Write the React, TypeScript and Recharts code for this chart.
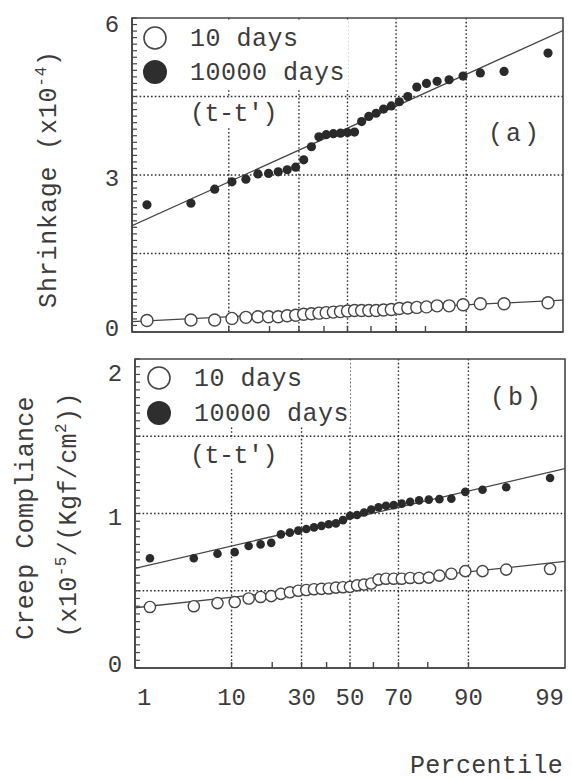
import React from 'react';
import { ScatterChart, Scatter, XAxis, YAxis, CartesianGrid, ReferenceArea, Customized } from 'recharts';

// ---- data ----
// plotting positions (percentile) of the 33 ranked values
const percentiles = [1.52, 4.55, 7.58, 10.61, 13.64, 16.67, 19.7, 22.73, 25.76, 28.79, 31.82, 34.85, 37.88, 40.91, 43.94, 46.97, 50.0, 53.03, 56.06, 59.09, 62.12, 65.15, 68.18, 71.21, 74.24, 77.27, 80.3, 83.33, 86.36, 89.39, 92.42, 95.45, 98.48];

// (a) shrinkage x10^-4
const shrink10 = [0.22, 0.23, 0.23, 0.26, 0.28, 0.29, 0.29, 0.29, 0.31, 0.32, 0.34, 0.35, 0.36, 0.37, 0.38, 0.39, 0.4, 0.41, 0.41, 0.41, 0.41, 0.42, 0.43, 0.45, 0.46, 0.47, 0.48, 0.5, 0.5, 0.52, 0.54, 0.54, 0.56];
const shrink10000 = [2.43, 2.46, 2.73, 2.87, 2.92, 3.02, 3.03, 3.06, 3.1, 3.15, 3.29, 3.54, 3.73, 3.77, 3.79, 3.8, 3.81, 3.82, 4.02, 4.12, 4.18, 4.26, 4.32, 4.4, 4.5, 4.68, 4.75, 4.79, 4.82, 4.89, 4.95, 4.98, 5.33];

// (b) creep compliance x10^-5/(kgf/cm2)
const creep10 = [0.395, 0.4, 0.42, 0.427, 0.45, 0.46, 0.465, 0.48, 0.49, 0.5, 0.505, 0.51, 0.512, 0.515, 0.52, 0.523, 0.525, 0.535, 0.54, 0.547, 0.572, 0.578, 0.578, 0.578, 0.583, 0.583, 0.585, 0.598, 0.61, 0.627, 0.627, 0.637, 0.641];
const creep10000 = [0.71, 0.71, 0.74, 0.75, 0.79, 0.8, 0.81, 0.865, 0.876, 0.889, 0.9, 0.91, 0.92, 0.93, 0.936, 0.957, 0.985, 0.99, 1.006, 1.026, 1.04, 1.05, 1.054, 1.064, 1.075, 1.085, 1.09, 1.093, 1.096, 1.14, 1.154, 1.17, 1.23];

// fitted straight lines, value read at percentile 1 and 99
const fitP = [1, 99];
const shrink10Fit = [0.2, 0.61];
const shrink10000Fit = [2.03, 5.76];
const creep10Fit = [0.39, 0.69];
const creep10000Fit = [0.645, 1.29];

// axis ticks
const xTickP = [1, 10, 20, 30, 40, 50, 60, 70, 80, 90, 99];
const xLabelP = [1, 10, 30, 50, 70, 90, 99];
const xGridP = [10, 30, 50, 70, 90];
const shrinkGrid = [1.5, 3, 4.5];
const shrinkLabels = [0, 3, 6];
const creepGrid = [0.5, 1, 1.5];
const creepLabels = [0, 1, 2];

// ---- normal probability scale ----
function probit(pct: number): number {
  const p = pct / 100;
  const a = [-39.69683028665376, 220.9460984245205, -275.9285104469687, 138.357751867269, -30.66479806614716, 2.506628277459239];
  const b = [-54.47609879822406, 161.5858368580409, -155.6989798598866, 66.80131188771972, -13.28068155288572];
  const c = [-0.007784894002430293, -0.3223964580411365, -2.400758277161838, -2.549732539343734, 4.374664141464968, 2.938163982698783];
  const d = [0.007784695709041462, 0.3224671290700398, 2.445134137142996, 3.754408661907416];
  const pl = 0.02425;
  if (p < pl) {
    const q = Math.sqrt(-2 * Math.log(p));
    return (((((c[0] * q + c[1]) * q + c[2]) * q + c[3]) * q + c[4]) * q + c[5]) / ((((d[0] * q + d[1]) * q + d[2]) * q + d[3]) * q + 1);
  }
  if (p > 1 - pl) {
    const q = Math.sqrt(-2 * Math.log(1 - p));
    return -(((((c[0] * q + c[1]) * q + c[2]) * q + c[3]) * q + c[4]) * q + c[5]) / ((((d[0] * q + d[1]) * q + d[2]) * q + d[3]) * q + 1);
  }
  const q = p - 0.5;
  const r = q * q;
  return ((((((a[0] * r + a[1]) * r + a[2]) * r + a[3]) * r + a[4]) * r + a[5]) * q) / (((((b[0] * r + b[1]) * r + b[2]) * r + b[3]) * r + b[4]) * r + 1);
}

const toPts = (ps: number[], vs: number[]) => ps.map((p, i) => ({ z: probit(p), v: vs[i] }));
const xDomain = [probit(1), probit(99)];
const xTicks = xTickP.map(probit);

const FONT = "'Liberation Mono', 'DejaVu Sans Mono', monospace";
const TXT = '#3c3c3c';
const LINE = '#454545';
const GRID = '#2f2f2f';

const minorTicks = (max: number, step: number) => {
  const out: number[] = [];
  const n = Math.round(max / step);
  for (let i = 0; i <= n; i++) out.push(+(i * step).toFixed(4));
  return out;
};

const nearestIdx = (arr: number[], v: number) => {
  let best = 0;
  arr.forEach((a, i) => {
    if (Math.abs(a - v) < Math.abs(arr[best] - v)) best = i;
  });
  return best;
};

const makeXTick = (showLabels: boolean) => (props: any) => {
  const { x, y, payload } = props;
  const p = xTickP[nearestIdx(xTicks, payload.value)];
  const isEdge = p === 1 || p === 99;
  const hasLabel = showLabels && xLabelP.includes(p);
  return (
    <g>
      {!isEdge && <line x1={x} y1={y} x2={x} y2={y - 6} stroke={LINE} strokeWidth={1.4} />}
      {hasLabel && (
        <text
          x={p === 1 ? x + 2 : p === 99 ? x - 1 : x}
          y={y + 37}
          textAnchor={p === 1 ? 'start' : p === 99 ? 'end' : 'middle'}
          fontFamily={FONT}
          fontSize={24}
          fill={TXT}
        >
          {String(p)}
        </text>
      )}
    </g>
  );
};

const makeYTick = (labels: number[], max: number, topDy: number) => (props: any) => {
  const { x, y, payload } = props;
  const v = payload.value;
  const lab = labels.find((l) => Math.abs(l - v) < 1e-6);
  const dy = lab === max ? topDy : lab === 0 ? 4 : 11;
  return (
    <g>
      <line x1={x} y1={y} x2={x + 5} y2={y} stroke={LINE} strokeWidth={1.2} />
      {lab !== undefined && (
        <text x={x - 20} y={y + dy} textAnchor="middle" fontFamily={FONT} fontSize={24} fill={TXT}>
          {String(lab)}
        </text>
      )}
    </g>
  );
};

const OpenDot = (r: number) => (props: any) => (
  <circle cx={props.cx} cy={props.cy} r={r} fill="#fff" stroke={LINE} strokeWidth={1.4} />
);
const FilledDot = (r: number) => (props: any) => <circle cx={props.cx} cy={props.cy} r={r} fill="#2a2a2a" />;
const NoDot = () => <g />;

const txt = (x: number, y: number, s: string, anchor: 'start' | 'middle' | 'end' = 'start', ls = 0.5) => (
  <text x={x} y={y} textAnchor={anchor} fontFamily={FONT} fontSize={25} letterSpacing={ls} fill={TXT}>
    {s}
  </text>
);

const TopOverlay = () => (
  <g>
    <rect x={142} y={20} width={206} height={69} fill="#fff" />
    <rect x={186} y={98} width={94} height={29} fill="#fff" />
    <circle cx={155} cy={38} r={11} fill="#fff" stroke={LINE} strokeWidth={1.6} />
    <circle cx={155} cy={72} r={12} fill="#2e2e2e" />
    {txt(190, 46, '10 days')}
    {txt(190, 80, '10000 days')}
    {txt(190, 121, "(t-t')", 'start', -0.5)}
    {txt(515, 141, '(a)', 'middle', 3)}
    <text transform="translate(56,179) rotate(-90)" textAnchor="middle" fontFamily={FONT} fontSize={25} letterSpacing={0.8} fill={TXT}>
      Shrinkage (x10
      <tspan dy={-10} fontSize={16}>-4</tspan>
      <tspan dy={10}>)</tspan>
    </text>
  </g>
);

const BottomOverlay = () => (
  <g>
    <rect x={142} y={15} width={208} height={66} fill="#fff" />
    <rect x={186} y={94} width={96} height={28} fill="#fff" />
    <circle cx={159} cy={33} r={11} fill="#fff" stroke={LINE} strokeWidth={1.6} />
    <circle cx={159} cy={68} r={12} fill="#2e2e2e" />
    {txt(194, 41, '10 days')}
    {txt(194, 76, '10000 days')}
    {txt(190, 118, "(t-t')", 'start', -0.5)}
    {txt(517, 60, '(b)', 'middle', 3)}
    <text transform="translate(33,173) rotate(-90)" textAnchor="middle" fontFamily={FONT} fontSize={25} letterSpacing={0.2} fill={TXT}>
      Creep Compliance
    </text>
    <text transform="translate(76,170) rotate(-90)" textAnchor="middle" fontFamily={FONT} fontSize={25} letterSpacing={0.4} fill={TXT}>
      (x10
      <tspan dy={-10} fontSize={16}>-5</tspan>
      <tspan dy={10}>/(Kgf/cm</tspan>
      <tspan dy={-10} fontSize={16}>2</tspan>
      <tspan dy={10}>))</tspan>
    </text>
    {txt(563, 428, 'Percentile', 'end', 0.3)}
  </g>
);

export default function App() {
  return (
    <div style={{ position: 'absolute', left: 0, top: 0, width: 572, height: 780, background: '#fff' }}>
      <div style={{ position: 'absolute', left: 0, top: 0 }}>
        <ScatterChart width={572} height={345} margin={{ top: 18, right: 9, bottom: 3, left: 92 }}>
          <CartesianGrid
            verticalValues={xGridP.map(probit)}
            horizontalValues={shrinkGrid}
            stroke={GRID}
            strokeDasharray="1.6 2.2"
            strokeWidth={1.4}
          />
          <Customized component={TopOverlay} />
          <XAxis
            type="number"
            dataKey="z"
            domain={xDomain}
            allowDataOverflow
            ticks={xTicks}
            interval={0}
            tickSize={0}
            tickMargin={0}
            tickLine={false}
            height={10}
            tick={makeXTick(false)}
            axisLine={{ stroke: LINE, strokeWidth: 1.6 }}
          />
          <YAxis
            type="number"
            dataKey="v"
            domain={[0, 6]}
            allowDataOverflow
            ticks={minorTicks(6, 0.125)}
            interval={0}
            tickSize={0}
            tickMargin={0}
            tickLine={false}
            width={40}
            tick={makeYTick(shrinkLabels, 6, 14)}
            axisLine={{ stroke: LINE, strokeWidth: 1.6 }}
          />
          <ReferenceArea x1={xDomain[0]} x2={xDomain[1]} y1={0} y2={6} fill="none" fillOpacity={0} stroke={LINE} strokeWidth={1.6} ifOverflow="visible" />
          <Scatter data={toPts(fitP, shrink10Fit)} line={{ stroke: LINE, strokeWidth: 1.3 }} shape={NoDot} isAnimationActive={false} />
          <Scatter data={toPts(fitP, shrink10000Fit)} line={{ stroke: LINE, strokeWidth: 1.3 }} shape={NoDot} isAnimationActive={false} />
          <Scatter data={toPts(percentiles, shrink10)} shape={OpenDot(6)} isAnimationActive={false} />
          <Scatter data={toPts(percentiles, shrink10000)} shape={FilledDot(4.6)} isAnimationActive={false} />
        </ScatterChart>
      </div>
      <div style={{ position: 'absolute', left: 0, top: 345 }}>
        <ScatterChart width={572} height={435} margin={{ top: 14, right: 7, bottom: 72, left: 95 }}>
          <CartesianGrid
            verticalValues={xGridP.map(probit)}
            horizontalValues={creepGrid}
            stroke={GRID}
            strokeDasharray="1.6 2.2"
            strokeWidth={1.4}
          />
          <Customized component={BottomOverlay} />
          <XAxis
            type="number"
            dataKey="z"
            domain={xDomain}
            allowDataOverflow
            ticks={xTicks}
            interval={0}
            tickSize={0}
            tickMargin={0}
            tickLine={false}
            height={40}
            tick={makeXTick(true)}
            axisLine={{ stroke: LINE, strokeWidth: 1.6 }}
          />
          <YAxis
            type="number"
            dataKey="v"
            domain={[0, 2]}
            allowDataOverflow
            ticks={minorTicks(2, 0.05)}
            interval={0}
            tickSize={0}
            tickMargin={0}
            tickLine={false}
            width={40}
            tick={makeYTick(creepLabels, 2, 22)}
            axisLine={{ stroke: LINE, strokeWidth: 1.6 }}
          />
          <ReferenceArea x1={xDomain[0]} x2={xDomain[1]} y1={0} y2={2} fill="none" fillOpacity={0} stroke={LINE} strokeWidth={1.6} ifOverflow="visible" />
          <Scatter data={toPts(fitP, creep10Fit)} line={{ stroke: LINE, strokeWidth: 1.3 }} shape={NoDot} isAnimationActive={false} />
          <Scatter data={toPts(fitP, creep10000Fit)} line={{ stroke: LINE, strokeWidth: 1.3 }} shape={NoDot} isAnimationActive={false} />
          <Scatter data={toPts(percentiles, creep10)} shape={OpenDot(5.6)} isAnimationActive={false} />
          <Scatter data={toPts(percentiles, creep10000)} shape={FilledDot(4.3)} isAnimationActive={false} />
        </ScatterChart>
      </div>
    </div>
  );
}
